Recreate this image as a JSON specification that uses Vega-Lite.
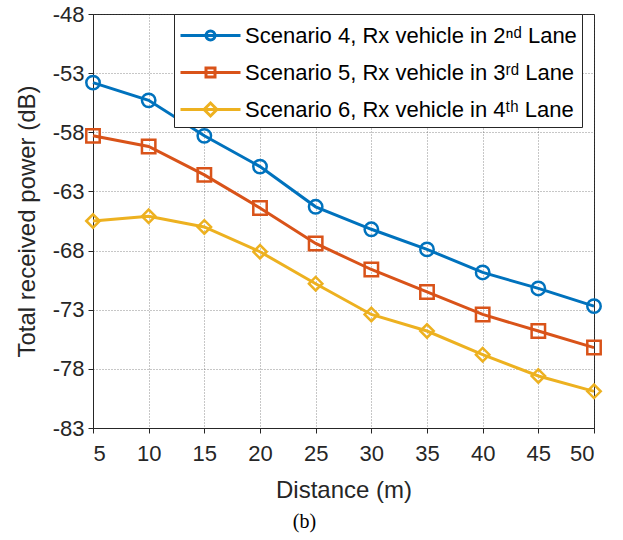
{
  "$schema": "https://vega.github.io/schema/vega-lite/v6.json",
  "width": 501,
  "height": 414,
  "autosize": {"type": "none"},
  "padding": {"left": 93, "top": 14, "right": 29, "bottom": 112},
  "background": "white",
  "title": {"text": "(b)", "orient": "bottom", "font": "Liberation Serif", "fontSize": 20, "fontWeight": "normal", "color": "#000000", "offset": 10, "dx": -39},
  "config": {
    "view": {"stroke": "#262626", "strokeWidth": 1},
    "axis": {
      "labelFont": "Liberation Sans", "labelFontSize": 22, "labelColor": "#262626",
      "titleFont": "Liberation Sans", "titleFontSize": 24, "titleFontWeight": "normal", "titleColor": "#262626",
      "domainColor": "#262626", "tickColor": "#262626", "tickSize": 5,
      "grid": true, "gridColor": "#444444", "gridDash": [1, 2], "gridOpacity": 0.6,
      "labelExpr": "replace(datum.label, '\u2212', '-')"
    },
    "legend": {"labelFont": "Liberation Sans", "labelFontSize": 22, "labelColor": "#000000"}
  },
  "data": {"values": [
    {"d": 5, "p": -53.8, "s": "Scenario 4, Rx vehicle in 2ⁿᵈ Lane"},
    {"d": 10, "p": -55.3, "s": "Scenario 4, Rx vehicle in 2ⁿᵈ Lane"},
    {"d": 15, "p": -58.3, "s": "Scenario 4, Rx vehicle in 2ⁿᵈ Lane"},
    {"d": 20, "p": -60.9, "s": "Scenario 4, Rx vehicle in 2ⁿᵈ Lane"},
    {"d": 25, "p": -64.3, "s": "Scenario 4, Rx vehicle in 2ⁿᵈ Lane"},
    {"d": 30, "p": -66.2, "s": "Scenario 4, Rx vehicle in 2ⁿᵈ Lane"},
    {"d": 35, "p": -67.9, "s": "Scenario 4, Rx vehicle in 2ⁿᵈ Lane"},
    {"d": 40, "p": -69.85, "s": "Scenario 4, Rx vehicle in 2ⁿᵈ Lane"},
    {"d": 45, "p": -71.2, "s": "Scenario 4, Rx vehicle in 2ⁿᵈ Lane"},
    {"d": 50, "p": -72.7, "s": "Scenario 4, Rx vehicle in 2ⁿᵈ Lane"},
    {"d": 5, "p": -58.3, "s": "Scenario 5, Rx vehicle in 3ʳᵈ Lane"},
    {"d": 10, "p": -59.2, "s": "Scenario 5, Rx vehicle in 3ʳᵈ Lane"},
    {"d": 15, "p": -61.6, "s": "Scenario 5, Rx vehicle in 3ʳᵈ Lane"},
    {"d": 20, "p": -64.4, "s": "Scenario 5, Rx vehicle in 3ʳᵈ Lane"},
    {"d": 25, "p": -67.4, "s": "Scenario 5, Rx vehicle in 3ʳᵈ Lane"},
    {"d": 30, "p": -69.6, "s": "Scenario 5, Rx vehicle in 3ʳᵈ Lane"},
    {"d": 35, "p": -71.5, "s": "Scenario 5, Rx vehicle in 3ʳᵈ Lane"},
    {"d": 40, "p": -73.4, "s": "Scenario 5, Rx vehicle in 3ʳᵈ Lane"},
    {"d": 45, "p": -74.8, "s": "Scenario 5, Rx vehicle in 3ʳᵈ Lane"},
    {"d": 50, "p": -76.2, "s": "Scenario 5, Rx vehicle in 3ʳᵈ Lane"},
    {"d": 5, "p": -65.5, "s": "Scenario 6, Rx vehicle in 4ᵗʰ Lane"},
    {"d": 10, "p": -65.1, "s": "Scenario 6, Rx vehicle in 4ᵗʰ Lane"},
    {"d": 15, "p": -66.0, "s": "Scenario 6, Rx vehicle in 4ᵗʰ Lane"},
    {"d": 20, "p": -68.1, "s": "Scenario 6, Rx vehicle in 4ᵗʰ Lane"},
    {"d": 25, "p": -70.8, "s": "Scenario 6, Rx vehicle in 4ᵗʰ Lane"},
    {"d": 30, "p": -73.4, "s": "Scenario 6, Rx vehicle in 4ᵗʰ Lane"},
    {"d": 35, "p": -74.8, "s": "Scenario 6, Rx vehicle in 4ᵗʰ Lane"},
    {"d": 40, "p": -76.8, "s": "Scenario 6, Rx vehicle in 4ᵗʰ Lane"},
    {"d": 45, "p": -78.6, "s": "Scenario 6, Rx vehicle in 4ᵗʰ Lane"},
    {"d": 50, "p": -79.9, "s": "Scenario 6, Rx vehicle in 4ᵗʰ Lane"}
  ]},
  "encoding": {
    "x": {"field": "d", "type": "quantitative", "title": "Distance (m)",
      "scale": {"domain": [5, 50], "nice": false},
      "axis": {"values": [5, 10, 15, 20, 25, 30, 35, 40, 45, 50], "labelPadding": 10, "titlePadding": 14}},
    "y": {"field": "p", "type": "quantitative", "title": "Total received power (dB)",
      "scale": {"domain": [-83, -48], "nice": false, "zero": false},
      "axis": {"values": [-83, -78, -73, -68, -63, -58, -53, -48], "labelPadding": 4, "titlePadding": 13}}
  },
  "layer": [
    {
      "mark": {"type": "line", "strokeWidth": 3},
      "encoding": {
        "color": {"field": "s", "type": "nominal", "legend": null,
          "scale": {"domain": ["Scenario 4, Rx vehicle in 2ⁿᵈ Lane", "Scenario 5, Rx vehicle in 3ʳᵈ Lane", "Scenario 6, Rx vehicle in 4ᵗʰ Lane"], "range": ["#0072BD", "#D95319", "#EDB120"]}}
      }
    },
    {
      "mark": {"type": "point", "filled": false, "strokeWidth": 2.5, "size": 180, "opacity": 1},
      "encoding": {
        "color": {"field": "s", "type": "nominal", "legend": null,
          "scale": {"domain": ["Scenario 4, Rx vehicle in 2ⁿᵈ Lane", "Scenario 5, Rx vehicle in 3ʳᵈ Lane", "Scenario 6, Rx vehicle in 4ᵗʰ Lane"], "range": ["#0072BD", "#D95319", "#EDB120"]}},
        "shape": {"field": "s", "type": "nominal", "legend": null,
          "scale": {"domain": ["Scenario 4, Rx vehicle in 2ⁿᵈ Lane", "Scenario 5, Rx vehicle in 3ʳᵈ Lane", "Scenario 6, Rx vehicle in 4ᵗʰ Lane"], "range": ["circle", "square", "diamond"]}}
      }
    },
    {
      "mark": {"type": "point", "filled": false, "strokeWidth": 3, "opacity": 0},
      "encoding": {
        "color": {"field": "s", "type": "nominal",
          "scale": {"domain": ["Scenario 4, Rx vehicle in 2ⁿᵈ Lane", "Scenario 5, Rx vehicle in 3ʳᵈ Lane", "Scenario 6, Rx vehicle in 4ᵗʰ Lane"], "range": ["#0072BD", "#D95319", "#EDB120"]},
          "legend": {"title": null, "orient": "none", "legendX": 81, "legendY": 0, "fillColor": "white", "strokeColor": "#262626", "padding": 5, "symbolSize": 900, "symbolStrokeWidth": 3, "symbolOpacity": 1, "labelOffset": 33, "rowPadding": 9, "labelLimit": 400}},
        "shape": {"field": "s", "type": "nominal",
          "scale": {"domain": ["Scenario 4, Rx vehicle in 2ⁿᵈ Lane", "Scenario 5, Rx vehicle in 3ʳᵈ Lane", "Scenario 6, Rx vehicle in 4ᵗʰ Lane"],
            "range": ["M-1,0H3M1.3,0A0.3,0.3,0,1,1,0.7,0A0.3,0.3,0,1,1,1.3,0", "M-1,0H3M0.7,-0.3H1.3V0.3H0.7Z", "M-1,0H3M1,-0.43L1.43,0L1,0.43L0.57,0Z"]},
          "legend": {"title": null, "orient": "none", "legendX": 81, "legendY": 0, "fillColor": "white", "strokeColor": "#262626", "padding": 5, "symbolSize": 900, "symbolStrokeWidth": 3, "symbolOpacity": 1, "labelOffset": 33, "rowPadding": 9, "labelLimit": 400}}
      }
    }
  ],
  "resolve": {"scale": {"color": "independent", "shape": "independent"}}
}
